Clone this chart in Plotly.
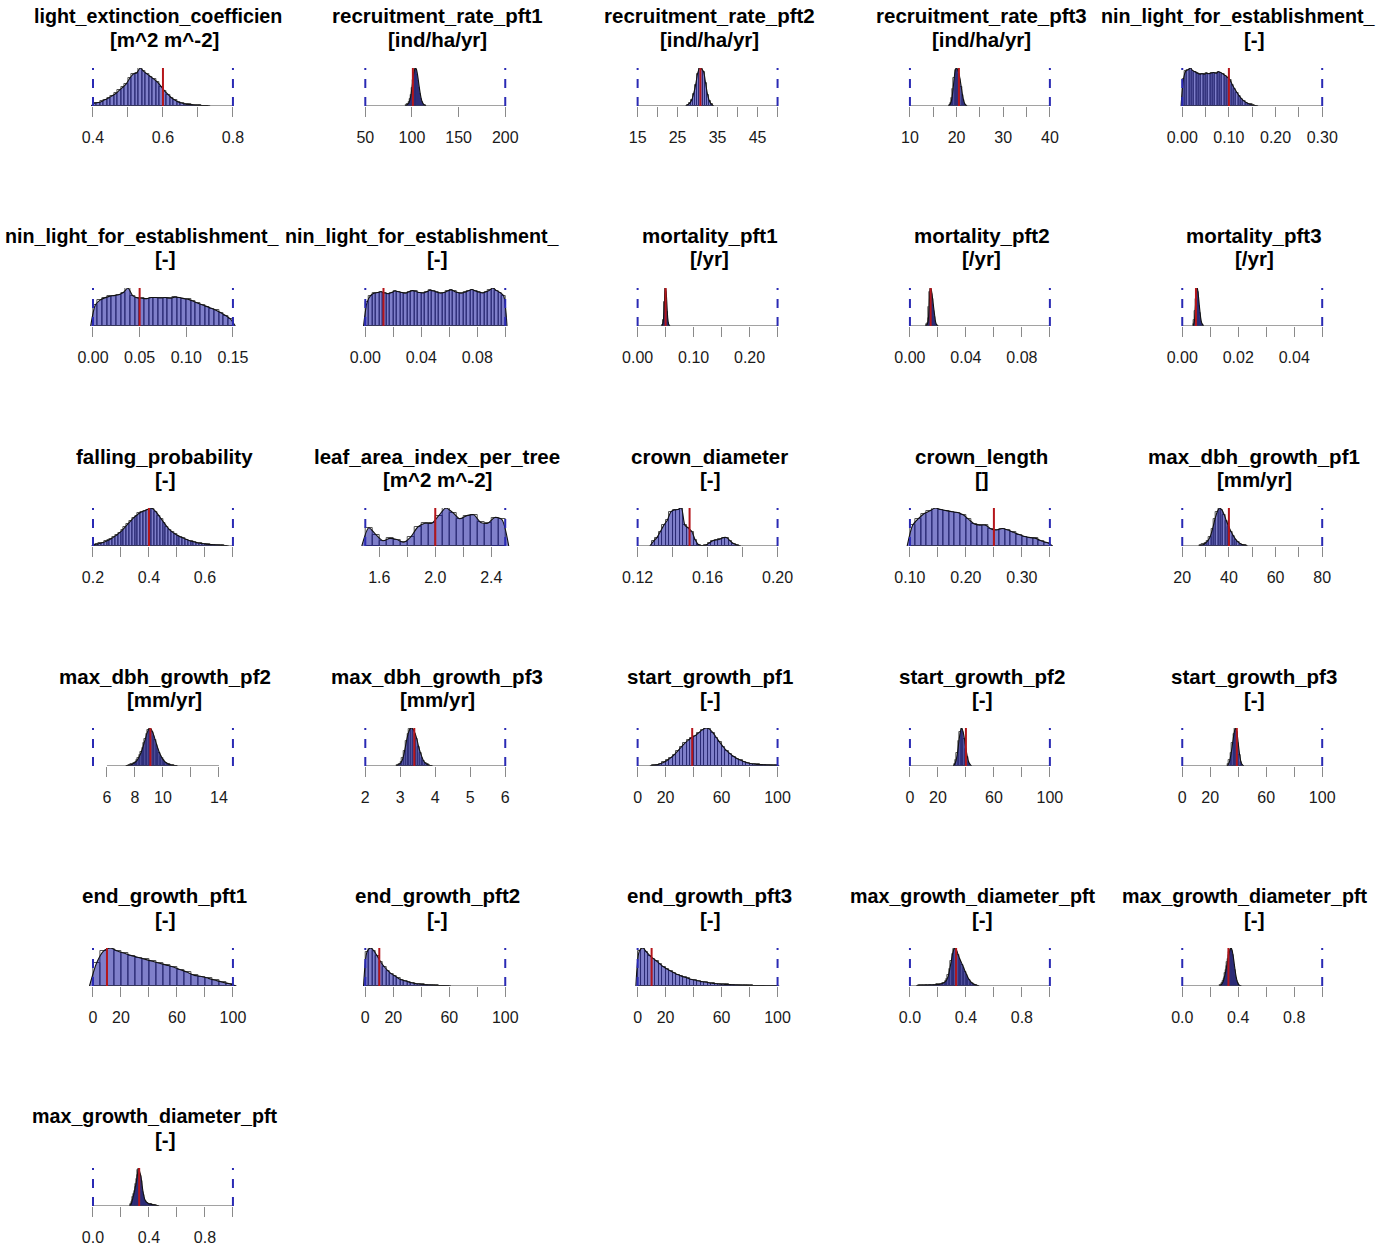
import plotly.graph_objects as go

# ---------------------------------------------------------------------------
# Posterior sample histograms for 26 model parameters
# ---------------------------------------------------------------------------

titles = [
    "light_extinction_coefficien", "recruitment_rate_pft1", "recruitment_rate_pft2",
    "recruitment_rate_pft3", "nin_light_for_establishment_",
    "nin_light_for_establishment_", "nin_light_for_establishment_", "mortality_pft1",
    "mortality_pft2", "mortality_pft3",
    "falling_probability", "leaf_area_index_per_tree", "crown_diameter",
    "crown_length", "max_dbh_growth_pf1",
    "max_dbh_growth_pf2", "max_dbh_growth_pf3", "start_growth_pf1",
    "start_growth_pf2", "start_growth_pf3",
    "end_growth_pft1", "end_growth_pft2", "end_growth_pft3",
    "max_growth_diameter_pft", "max_growth_diameter_pft",
    "max_growth_diameter_pft",
]
units = [
    "[m^2 m^-2]", "[ind/ha/yr]", "[ind/ha/yr]", "[ind/ha/yr]", "[-]",
    "[-]", "[-]", "[/yr]", "[/yr]", "[/yr]",
    "[-]", "[m^2 m^-2]", "[-]", "[]", "[mm/yr]",
    "[mm/yr]", "[mm/yr]", "[-]", "[-]", "[-]",
    "[-]", "[-]", "[-]", "[-]", "[-]",
    "[-]",
]

# prior bounds (blue dashed lines)
prior_lo = [0.4, 50, 15, 10, 0.0,
            0.0, 0.0, 0.0, 0.0, 0.0,
            0.2, 1.5, 0.12, 0.10, 20,
            5, 2, 0, 0, 0,
            0, 0, 0, 0.0, 0.0,
            0.0]
prior_hi = [0.8, 200, 50, 40, 0.30,
            0.15, 0.10, 0.25, 0.10, 0.05,
            0.7, 2.5, 0.20, 0.35, 80,
            15, 6, 100, 100, 100,
            100, 100, 100, 1.0, 1.0,
            1.0]

# reference parameter value (red line)
red_values = [0.6, 101, 30.7, 20.5, 0.10,
              0.05, 0.013, 0.05, 0.0148, 0.0049,
              0.40, 2.0, 0.1497, 0.25, 40,
              9.1, 3.4, 39, 40, 39,
              10, 10, 10, 0.33, 0.33,
              0.33]

tick_values = [
    [0.4, 0.5, 0.6, 0.7, 0.8], [50, 100, 150, 200],
    [15, 20, 25, 30, 35, 40, 45, 50], [10, 15, 20, 25, 30, 35, 40],
    [0.0, 0.05, 0.10, 0.15, 0.20, 0.25, 0.30],
    [0.0, 0.05, 0.10, 0.15], [0.0, 0.02, 0.04, 0.06, 0.08, 0.10],
    [0.0, 0.05, 0.10, 0.15, 0.20, 0.25], [0.0, 0.02, 0.04, 0.06, 0.08, 0.10],
    [0.0, 0.01, 0.02, 0.03, 0.04, 0.05],
    [0.2, 0.3, 0.4, 0.5, 0.6, 0.7], [1.6, 1.8, 2.0, 2.2, 2.4],
    [0.12, 0.14, 0.16, 0.18, 0.20], [0.10, 0.15, 0.20, 0.25, 0.30, 0.35],
    [20, 30, 40, 50, 60, 70, 80],
    [6, 8, 10, 12, 14], [2, 3, 4, 5, 6], [0, 20, 40, 60, 80, 100],
    [0, 20, 40, 60, 80, 100], [0, 20, 40, 60, 80, 100],
    [0, 20, 40, 60, 80, 100], [0, 20, 40, 60, 80, 100], [0, 20, 40, 60, 80, 100],
    [0.0, 0.2, 0.4, 0.6, 0.8, 1.0], [0.0, 0.2, 0.4, 0.6, 0.8, 1.0],
    [0.0, 0.2, 0.4, 0.6, 0.8, 1.0],
]
tick_labels = [
    ["0.4", "", "0.6", "", "0.8"], ["50", "100", "150", "200"],
    ["15", "", "25", "", "35", "", "45", ""], ["10", "", "20", "", "30", "", "40"],
    ["0.00", "", "0.10", "", "0.20", "", "0.30"],
    ["0.00", "0.05", "0.10", "0.15"], ["0.00", "", "0.04", "", "0.08", ""],
    ["0.00", "", "0.10", "", "0.20", ""], ["0.00", "", "0.04", "", "0.08", ""],
    ["0.00", "", "0.02", "", "0.04", ""],
    ["0.2", "", "0.4", "", "0.6", ""], ["1.6", "", "2.0", "", "2.4"],
    ["0.12", "", "0.16", "", "0.20"], ["0.10", "", "0.20", "", "0.30", ""],
    ["20", "", "40", "", "60", "", "80"],
    ["6", "8", "10", "", "14"], ["2", "3", "4", "5", "6"], ["0", "20", "", "60", "", "100"],
    ["0", "20", "", "60", "", "100"], ["0", "20", "", "60", "", "100"],
    ["0", "20", "", "60", "", "100"], ["0", "20", "", "60", "", "100"],
    ["0", "20", "", "60", "", "100"],
    ["0.0", "", "0.4", "", "0.8", ""], ["0.0", "", "0.4", "", "0.8", ""],
    ["0.0", "", "0.4", "", "0.8", ""],
]

# histogram bins: left edge and width
bin_start = [0.40, 93.5, 27.25, 18.375, 0.0,
             0.0, 0.0, 0.0435, 0.0115, 0.0040,
             0.20, 1.5, 0.128, 0.10, 27.5,
             7.4, 2.9, 10.0, 31.5, 32.5,
             0.0, 0.0, 0.0, 0.05, 0.27,
             0.265]
bin_width = [0.01, 1.0, 0.5, 0.25, 0.005,
             0.005, 0.0025, 0.001, 0.0005, 0.00025,
             0.01, 0.05, 0.002, 0.01, 1.0,
             0.1, 0.05, 2.5, 1.0, 1.0,
             5.0, 2.5, 2.5, 0.01, 0.005,
             0.005]

# relative bin heights (max = 1)
h_light_ext = [0.08, 0.09, 0.12, 0.17, 0.21, 0.27, 0.33, 0.41, 0.49, 0.58, 0.73,
               0.84, 0.87, 1.0, 0.91, 0.84, 0.77, 0.70, 0.62, 0.51, 0.39, 0.30,
               0.21, 0.15, 0.10, 0.07, 0.05, 0.04, 0.03, 0.02, 0.02, 0.01, 0.01]
h_recruit1 = [0.02, 0.04, 0.06, 0.10, 0.18, 0.30, 0.48, 0.68, 0.86, 0.97, 1.0,
              0.95, 0.82, 0.65, 0.47, 0.31, 0.19, 0.11, 0.06, 0.03, 0.02]
h_recruit2 = [0.03, 0.07, 0.15, 0.32, 0.55, 0.85, 1.0, 0.97, 0.90, 0.60, 0.30,
              0.12, 0.04]
h_recruit3 = [0.03, 0.08, 0.20, 0.45, 0.75, 0.95, 1.0, 0.95, 0.85, 0.70, 0.50,
              0.30, 0.15, 0.06, 0.02]
h_minlight1 = [0.70, 0.92, 0.95, 1.0, 0.93, 0.90, 0.86, 0.84, 0.85, 0.84, 0.86,
               0.85, 0.87, 0.88, 0.86, 0.90, 0.88, 0.84, 0.80, 0.75, 0.68, 0.55,
               0.45, 0.35, 0.26, 0.19, 0.13, 0.09, 0.06, 0.04, 0.02, 0.01]
h_minlight2 = [0.55, 0.68, 0.74, 0.78, 0.80, 0.82, 0.88, 1.0, 0.80, 0.74, 0.73,
               0.72, 0.75, 0.75, 0.74, 0.75, 0.73, 0.76, 0.75, 0.72, 0.70, 0.65,
               0.60, 0.55, 0.51, 0.46, 0.41, 0.34, 0.27, 0.18]
h_minlight3 = [0.62, 0.80, 0.86, 0.88, 0.90, 0.87, 0.85, 0.88, 0.92, 0.90, 0.88,
               0.86, 0.90, 0.93, 0.91, 0.88, 0.87, 0.90, 0.94, 0.92, 0.89, 0.86,
               0.88, 0.92, 0.95, 0.91, 0.88, 0.86, 0.89, 0.93, 0.96, 0.92, 0.89,
               0.87, 0.90, 0.94, 1.0, 0.93, 0.88, 0.80]
h_mort1 = [0.02, 0.06, 0.15, 0.35, 0.62, 0.88, 1.0, 0.90, 0.65, 0.38, 0.18, 0.07,
           0.03, 0.01]
h_mort2 = [0.02, 0.04, 0.08, 0.20, 0.50, 0.90, 1.0, 0.95, 0.85, 0.70, 0.55, 0.40,
           0.25, 0.12, 0.06, 0.03, 0.01]
h_mort3 = [0.05, 0.15, 0.40, 0.70, 0.95, 1.0, 0.90, 0.72, 0.52, 0.35, 0.20, 0.10,
           0.05, 0.02]
h_falling = [0.03, 0.05, 0.07, 0.09, 0.12, 0.15, 0.19, 0.24, 0.29, 0.35, 0.42,
             0.50, 0.58, 0.66, 0.74, 0.80, 0.86, 0.90, 0.93, 0.96, 1.0, 0.97,
             0.90, 0.80, 0.70, 0.60, 0.50, 0.42, 0.36, 0.31, 0.27, 0.23, 0.20,
             0.17, 0.14, 0.12, 0.10, 0.08, 0.07, 0.06, 0.05, 0.04, 0.035, 0.03,
             0.025, 0.02, 0.015, 0.01]
h_leaf = [0.48, 0.30, 0.14, 0.20, 0.17, 0.10, 0.24, 0.50, 0.60, 0.60, 0.80, 1.0,
          0.88, 0.72, 0.80, 0.82, 0.62, 0.60, 0.75, 0.70]
h_crown_d = [0.12, 0.22, 0.38, 0.55, 0.68, 0.90, 0.95, 0.96, 1.0, 0.55, 0.47,
             0.38, 0.15, 0.03, 0.01, 0.02, 0.08, 0.14, 0.16, 0.18, 0.22, 0.22,
             0.13, 0.06, 0.02]
h_crown_l = [0.55, 0.72, 0.85, 0.92, 1.0, 0.96, 0.93, 0.90, 0.88, 0.82, 0.70,
             0.58, 0.55, 0.55, 0.45, 0.42, 0.46, 0.42, 0.36, 0.30, 0.25, 0.22,
             0.20, 0.13, 0.09]
h_dbh1 = [0.02, 0.04, 0.08, 0.14, 0.25, 0.45, 0.70, 0.90, 1.0, 0.95, 0.82, 0.65,
          0.50, 0.37, 0.26, 0.17, 0.10, 0.06, 0.03, 0.02]
h_dbh2 = [0.01, 0.02, 0.03, 0.04, 0.06, 0.08, 0.11, 0.15, 0.21, 0.28, 0.37, 0.47,
          0.60, 0.72, 0.85, 0.95, 1.0, 0.97, 0.90, 0.80, 0.68, 0.56, 0.45, 0.35,
          0.27, 0.20, 0.15, 0.11, 0.08, 0.06, 0.04, 0.03, 0.02, 0.015, 0.01,
          0.005]
h_dbh3 = [0.02, 0.05, 0.10, 0.20, 0.40, 0.65, 0.85, 0.97, 1.0, 0.95, 0.85, 0.70,
          0.50, 0.35, 0.22, 0.12, 0.07, 0.04, 0.02, 0.01]
h_start1 = [0.02, 0.03, 0.06, 0.10, 0.15, 0.22, 0.30, 0.40, 0.50, 0.60, 0.68,
            0.75, 0.80, 0.88, 0.95, 1.0, 0.97, 0.88, 0.75, 0.62, 0.50, 0.40,
            0.32, 0.25, 0.19, 0.15, 0.11, 0.08, 0.06, 0.05, 0.04, 0.035, 0.03,
            0.025, 0.02, 0.02]
h_start2 = [0.05, 0.15, 0.35, 0.65, 0.90, 1.0, 0.90, 0.70, 0.45, 0.25, 0.10, 0.04]
h_start3 = [0.05, 0.15, 0.35, 0.60, 0.85, 1.0, 0.90, 0.60, 0.30, 0.10, 0.03]
h_end1 = [0.60, 0.92, 1.0, 0.92, 0.86, 0.80, 0.75, 0.70, 0.65, 0.60, 0.55, 0.50,
          0.43, 0.36, 0.28, 0.25, 0.20, 0.15, 0.10, 0.06]
h_end2 = [0.90, 1.0, 0.92, 0.78, 0.62, 0.50, 0.40, 0.32, 0.26, 0.20, 0.16, 0.13,
          0.10, 0.08, 0.06, 0.05, 0.04, 0.03, 0.025, 0.02, 0.015, 0.01, 0.01,
          0.005]
h_end3 = [0.92, 1.0, 0.90, 0.80, 0.72, 0.65, 0.57, 0.50, 0.44, 0.39, 0.34, 0.30,
          0.26, 0.23, 0.20, 0.17, 0.15, 0.13, 0.11, 0.10, 0.08, 0.07, 0.06, 0.05,
          0.045, 0.04, 0.035, 0.03, 0.025, 0.02, 0.02, 0.015, 0.015, 0.01, 0.01,
          0.01, 0.008, 0.006, 0.005, 0.004]
h_maxgd1 = [0.01, 0.015, 0.02, 0.02, 0.02, 0.02, 0.025, 0.02, 0.025, 0.03, 0.025,
            0.03, 0.03, 0.035, 0.04, 0.04, 0.05, 0.06, 0.07, 0.09, 0.12, 0.18,
            0.28, 0.45, 0.65, 0.85, 0.97, 1.0, 0.92, 0.82, 0.72, 0.64, 0.56,
            0.47, 0.38, 0.30, 0.22, 0.16, 0.11, 0.07, 0.05, 0.03, 0.02, 0.01]
h_maxgd2 = [0.02, 0.03, 0.05, 0.08, 0.12, 0.18, 0.25, 0.33, 0.42, 0.52, 0.62,
            0.72, 0.82, 0.90, 0.96, 1.0, 0.98, 0.92, 0.82, 0.70, 0.56, 0.42,
            0.30, 0.20, 0.12, 0.07, 0.04, 0.02, 0.01, 0.005]
h_maxgd3 = [0.02, 0.05, 0.10, 0.17, 0.25, 0.32, 0.40, 0.50, 0.58, 0.70, 0.82,
            0.95, 1.0, 0.92, 0.85, 0.78, 0.65, 0.50, 0.38, 0.28, 0.20, 0.15,
            0.12, 0.10, 0.09, 0.07, 0.06, 0.05, 0.06, 0.05, 0.04, 0.04, 0.03,
            0.03, 0.03, 0.02, 0.02, 0.015, 0.01, 0.01, 0.005]

heights = [h_light_ext, h_recruit1, h_recruit2, h_recruit3, h_minlight1,
           h_minlight2, h_minlight3, h_mort1, h_mort2, h_mort3,
           h_falling, h_leaf, h_crown_d, h_crown_l, h_dbh1,
           h_dbh2, h_dbh3, h_start1, h_start2, h_start3,
           h_end1, h_end2, h_end3, h_maxgd1, h_maxgd2,
           h_maxgd3]

# ---------------------------------------------------------------------------
# Page geometry (pixels)
# ---------------------------------------------------------------------------
W, H = 1387, 1249
NCOL = 5
COL_LEFT = [84.2, 360.5, 636.8, 913.1, 1189.4]   # x of the lower prior bound
SPAN = 142.0                                      # px between prior bounds
PAD = 0.04                                        # axis extension each side
ROW_STEP = 220.0
PLOT_TOP, PLOT_BOTTOM = 68.0, 106.0
TITLE1_Y, TITLE2_Y = 16.0, 39.0
TITLE_SIZE = 20.5
CUT_TITLE_SIZE = 19.7
# titles cut by their figure region start at these x positions
TITLE_LEFT = {0: 22.5, 4: 1105.0, 5: -6.9, 6: 277.1, 23: 850.3, 24: 1126.3,
              25: 20.5}

FONT = "Liberation Sans, Arial, sans-serif"
FILL = "rgba(0,0,150,0.5)"
BAR_EDGE = "#555555"
RED = "#b5161b"
BLUE = "#2a2ab4"

fig = go.Figure()
shapes, annotations = [], []

for k in range(len(titles)):
    r, c = divmod(k, NCOL)
    ax = "" if k == 0 else str(k + 1)
    lo, hi = prior_lo[k], prior_hi[k]
    ext = PAD * (hi - lo)
    w = bin_width[k]
    h = heights[k]
    centers = [bin_start[k] + w * (j + 0.5) for j in range(len(h))]

    # histogram bars (outline only)
    fig.add_trace(go.Bar(
        x=centers, y=h, width=w,
        marker=dict(color="rgba(0,0,0,0)", line=dict(color=BAR_EDGE, width=1)),
        xaxis="x" + ax, yaxis="y" + ax, showlegend=False, hoverinfo="skip"))

    # smoothed density, filled
    dx = [bin_start[k] - 0.5 * w] + centers + [bin_start[k] + w * (len(h) + 0.5)]
    dy = [0.0] + h + [0.0]
    fig.add_trace(go.Scatter(
        x=dx, y=dy, mode="lines", fill="tozeroy", fillcolor=FILL,
        line=dict(color="#111111", width=1.1, shape="spline", smoothing=0.7),
        xaxis="x" + ax, yaxis="y" + ax, showlegend=False, hoverinfo="skip"))

    x0 = (COL_LEFT[c] - PAD * SPAN) / W
    x1 = (COL_LEFT[c] + SPAN + PAD * SPAN) / W
    y_top = PLOT_TOP + ROW_STEP * r
    y_bot = PLOT_BOTTOM + ROW_STEP * r

    fig.layout["xaxis" + ax] = dict(
        domain=[x0, x1], range=[lo - ext, hi + ext], anchor="y" + ax,
        tickmode="array", tickvals=tick_values[k], ticktext=tick_labels[k],
        ticks="outside", ticklen=10, tickwidth=1, tickcolor="#8a8a8a",
        ticklabelstandoff=7,
        tickfont=dict(family=FONT, size=16, color="#1a1a1a"),
        showgrid=False, zeroline=False, showline=False, fixedrange=True)
    fig.layout["yaxis" + ax] = dict(
        domain=[1 - y_bot / H, 1 - y_top / H], range=[0, 1.0], anchor="x" + ax,
        visible=False, fixedrange=True)

    # axis line from first to last tick
    shapes.append(dict(type="line", xref="x" + ax, yref="y" + ax,
                       x0=tick_values[k][0], x1=tick_values[k][-1], y0=0, y1=0,
                       line=dict(color="#444444", width=1), layer="above"))
    # prior bounds
    for b in (lo, hi):
        shapes.append(dict(type="line", xref="x" + ax, yref="y" + ax + " domain",
                           x0=b, x1=b, y0=0, y1=1,
                           line=dict(color=BLUE, width=2, dash="dash"),
                           layer="above"))
    # reference value
    shapes.append(dict(type="line", xref="x" + ax, yref="y" + ax + " domain",
                       x0=red_values[k], x1=red_values[k], y0=0, y1=1,
                       line=dict(color=RED, width=2), layer="above"))

    # two-line panel title
    cx = COL_LEFT[c] + SPAN / 2 + 2
    y1 = 1 - (TITLE1_Y + ROW_STEP * r) / H
    if k in TITLE_LEFT:
        annotations.append(dict(text="<b>" + titles[k] + "</b>", xref="paper",
                                yref="paper", x=TITLE_LEFT[k] / W, xanchor="left",
                                y=y1, yanchor="middle", showarrow=False,
                                font=dict(family=FONT, size=CUT_TITLE_SIZE,
                                          color="#000")))
    else:
        annotations.append(dict(text="<b>" + titles[k] + "</b>", xref="paper",
                                yref="paper", x=cx / W, xanchor="center",
                                y=y1, yanchor="middle", showarrow=False,
                                font=dict(family=FONT, size=TITLE_SIZE,
                                          color="#000")))
    annotations.append(dict(text="<b>" + units[k] + "</b>", xref="paper",
                            yref="paper", x=cx / W, xanchor="center",
                            y=1 - (TITLE2_Y + ROW_STEP * r) / H, yanchor="middle",
                            showarrow=False,
                            font=dict(family=FONT, size=TITLE_SIZE, color="#000")))

fig.update_layout(
    width=W, height=H, autosize=False, margin=dict(l=0, r=0, t=0, b=0),
    paper_bgcolor="white", plot_bgcolor="white",
    shapes=shapes, annotations=annotations, bargap=0, showlegend=False)

fig.write_html("out.html", include_plotlyjs=True,
               config={"displayModeBar": False, "responsive": False})
